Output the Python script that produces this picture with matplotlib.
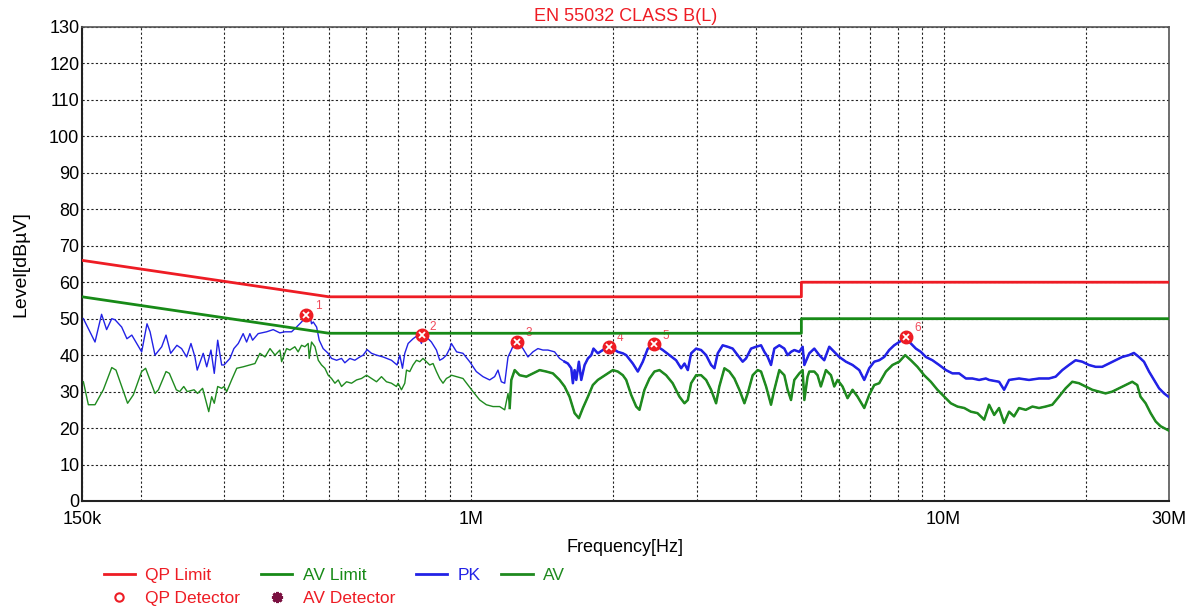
import matplotlib.pyplot as plt
from matplotlib.ticker import FixedLocator, NullFormatter
from matplotlib.lines import Line2D

plt.rcParams['font.family'] = ['Liberation Sans', 'DejaVu Sans']

# Limites EN 55032 clase B (MHz, dBuV)
qp_lim_freq = [0.15, 0.5, 0.5, 5.0, 5.0, 30.0]
qp_lim_level = [66, 56, 56, 56, 60, 60]
av_lim_freq = [0.15, 0.5, 0.5, 5.0, 5.0, 30.0]
av_lim_level = [56, 46, 46, 46, 50, 50]

# Traza PK
pk_freq = [
    0.151, 0.1598, 0.165, 0.1691, 0.1734, 0.1762, 0.182, 0.1867, 0.1912, 0.2006,
    0.2059, 0.209, 0.2141, 0.2212, 0.2259, 0.2311, 0.2382, 0.2437, 0.2498, 0.2551,
    0.2601, 0.263, 0.2708, 0.2755, 0.2812, 0.2858, 0.2906, 0.2963, 0.2997, 0.3085,
    0.3145, 0.3213, 0.329, 0.3346, 0.34, 0.3445, 0.354, 0.3688, 0.3809, 0.3935,
    0.4032, 0.4166, 0.4267, 0.4374, 0.4445, 0.4555, 0.4592, 0.463, 0.4707, 0.4767,
    0.4859, 0.498, 0.5062, 0.5188, 0.5315, 0.5401, 0.5534, 0.567, 0.581, 0.5905,
    0.6021, 0.615, 0.6303, 0.6508, 0.6779, 0.6967, 0.706, 0.7153, 0.7234, 0.7353,
    0.7532, 0.7718, 0.7846, 0.7907, 0.8039, 0.8237, 0.8441, 0.8577, 0.8716, 0.8861,
    0.9005, 0.908, 0.9313, 0.9607, 0.9927, 1.0251, 1.059, 1.0941, 1.1211, 1.1395,
    1.1582, 1.1774, 1.1965, 1.216, 1.236, 1.2563, 1.287, 1.3187, 1.351, 1.3843,
    1.4184, 1.4534, 1.5015, 1.5385, 1.5764, 1.602, 1.6287, 1.6415, 1.6552, 1.6689,
    1.6903, 1.71, 1.7382, 1.7665, 1.7953, 1.8151, 1.8538, 1.8996, 1.9463, 1.9945,
    2.0437, 2.0942, 2.1289, 2.1984, 2.2529, 2.3081, 2.3651, 2.4233, 2.483, 2.5443,
    2.6283, 2.7148, 2.7826, 2.828, 2.8746, 2.9215, 2.9938, 3.0672, 3.1426, 3.2203,
    3.2727, 3.326, 3.4072, 3.4913, 3.5773, 3.6654, 3.7559, 3.8185, 3.9126, 4.0093,
    4.1079, 4.175, 4.2432, 4.3121, 4.3825, 4.4907, 4.6014, 4.6764, 4.7536, 4.831,
    4.95, 5.031, 5.073, 5.197, 5.325, 5.456, 5.59, 5.728, 5.869, 6.014,
    6.214, 6.417, 6.63, 6.794, 6.96, 7.132, 7.307, 7.488, 7.672, 7.861,
    8.055, 8.294, 8.527, 8.737, 8.952, 9.173, 9.473, 9.787, 10.117, 10.442,
    10.788, 11.152, 11.51, 11.895, 12.29, 12.486, 13.108, 13.434, 13.763, 14.449,
    15.168, 15.925, 16.72, 17.273, 17.84, 18.43, 19.037, 19.664, 20.313, 20.982,
    21.674, 22.391, 23.128, 23.892, 24.68, 25.293, 25.921, 26.565, 27.225, 27.901,
    28.594, 29.305, 30.0,
]
pk_level = [
    50.0, 43.6, 51.2, 47.0, 50.0, 49.7, 47.7, 44.5, 45.5, 40.9,
    48.6, 46.4, 40.0, 42.3, 45.5, 40.5, 42.7, 41.8, 39.5, 43.2,
    39.5, 35.9, 40.5, 36.8, 41.4, 35.0, 44.1, 37.3, 37.3, 39.1,
    41.8, 43.2, 45.9, 43.6, 45.9, 44.1, 45.9, 46.4, 47.0, 46.1,
    46.4, 46.4, 47.7, 49.1, 50.3, 50.9, 48.6, 49.1, 47.7, 44.1,
    41.8, 40.5, 39.1, 38.6, 39.1, 37.9, 39.1, 38.6, 39.5, 40.0,
    41.5, 40.5, 40.0, 39.5, 38.6, 37.3, 40.0, 36.4, 40.5, 43.2,
    44.5, 45.5, 43.2, 45.5, 45.0, 43.6, 41.4, 38.6, 39.1, 40.0,
    41.8, 43.2, 40.9, 40.5, 38.2, 35.5, 34.1, 33.2, 34.1, 35.9,
    32.7, 32.3, 39.5, 41.4, 43.6, 43.6, 41.8, 39.5, 40.9, 41.8,
    41.4, 41.4, 40.9, 39.1, 38.2, 37.7, 36.4, 32.3, 35.9, 33.2,
    38.2, 33.2, 37.3, 39.1, 40.0, 41.8, 40.5, 41.4, 42.3, 41.8,
    40.9, 40.5, 40.0, 37.7, 35.5, 38.2, 41.8, 42.3, 42.3, 41.4,
    40.0, 38.6, 36.4, 37.7, 35.9, 40.5, 41.8, 41.4, 40.0, 37.3,
    36.4, 40.5, 42.7, 42.3, 41.8, 40.0, 38.2, 39.1, 41.8, 42.3,
    42.7, 40.9, 39.5, 37.3, 41.8, 42.7, 41.8, 40.0, 40.9, 41.4,
    40.9, 42.3, 37.3, 40.5, 41.8, 40.0, 38.6, 42.3, 40.9, 39.5,
    38.2, 37.3, 35.9, 33.2, 36.4, 38.2, 38.6, 39.5, 41.4, 42.7,
    43.6, 44.8, 43.2, 41.8, 40.9, 39.5, 38.6, 37.3, 35.9, 35.0,
    35.0, 33.6, 33.6, 33.2, 33.6, 33.2, 32.7, 30.5, 33.2, 33.6,
    33.2, 33.6, 33.6, 34.1, 35.9, 37.3, 38.6, 38.2, 37.3, 36.8,
    36.8, 37.7, 38.6, 39.5, 40.0, 40.6, 39.5, 38.2, 35.5, 33.2,
    30.9, 29.5, 28.5,
]

# Traza AV
av_freq = [
    0.151, 0.1547, 0.1598, 0.1664, 0.1734, 0.177, 0.182, 0.1873, 0.1926, 0.2006,
    0.2045, 0.2141, 0.2177, 0.2259, 0.2296, 0.2375, 0.2414, 0.2463, 0.2505, 0.259,
    0.2634, 0.27, 0.2782, 0.2822, 0.2858, 0.2906, 0.2963, 0.2997, 0.3037, 0.311,
    0.3189, 0.329, 0.34, 0.3485, 0.357, 0.366, 0.375, 0.3843, 0.3935, 0.3969,
    0.4066, 0.4132, 0.4233, 0.4301, 0.4374, 0.4445, 0.4517, 0.454, 0.4592, 0.4669,
    0.4745, 0.4821, 0.4901, 0.498, 0.5062, 0.5146, 0.523, 0.5315, 0.5446, 0.558,
    0.5718, 0.5858, 0.6004, 0.615, 0.6303, 0.6457, 0.6616, 0.6779, 0.6946, 0.7002,
    0.7118, 0.7234, 0.7295, 0.7412, 0.7532, 0.7657, 0.7783, 0.7907, 0.8039, 0.817,
    0.8303, 0.8441, 0.8577, 0.8716, 0.8861, 0.9005, 0.908, 0.9313, 0.9607, 0.9847,
    1.0088, 1.0424, 1.0766, 1.1122, 1.1487, 1.1774, 1.1965, 1.2064, 1.216, 1.236,
    1.266, 1.3085, 1.351, 1.396, 1.442, 1.4893, 1.5385, 1.5764, 1.615, 1.6552,
    1.6903, 1.7238, 1.7665, 1.8092, 1.8538, 1.8996, 1.9463, 1.9945, 2.0437, 2.0942,
    2.1289, 2.181, 2.235, 2.271, 2.327, 2.385, 2.443, 2.504, 2.586, 2.67,
    2.76, 2.828, 2.8746, 2.9215, 2.9938, 3.0672, 3.1426, 3.2203, 3.2994, 3.352,
    3.436, 3.52, 3.607, 3.696, 3.788, 3.849, 3.944, 4.041, 4.1079, 4.21,
    4.3121, 4.3825, 4.4907, 4.6014, 4.6764, 4.7536, 4.831, 4.95, 5.031, 5.073,
    5.154, 5.197, 5.325, 5.41, 5.498, 5.636, 5.776, 5.869, 5.965, 6.111,
    6.262, 6.417, 6.576, 6.794, 6.96, 7.132, 7.307, 7.55, 7.796, 8.055,
    8.294, 8.527, 8.804, 9.098, 9.399, 9.706, 10.033, 10.36, 10.7, 11.062,
    11.42, 11.797, 12.19, 12.486, 12.8, 13.108, 13.434, 13.763, 14.1, 14.449,
    14.93, 15.42, 15.925, 16.45, 16.99, 17.55, 18.13, 18.73, 19.35, 19.99,
    20.65, 21.33, 22.03, 22.76, 23.51, 24.29, 25.09, 25.71, 26.12, 26.78,
    27.44, 28.13, 28.81, 29.78, 30.0,
]
av_level = [
    32.7, 26.4, 26.4, 30.5, 36.6, 35.9, 31.4, 26.8, 29.1, 35.5,
    36.4, 29.5, 30.5, 35.5, 35.0, 30.5, 30.0, 31.4, 30.0, 30.5,
    29.5, 30.9, 24.5, 28.6, 26.8, 31.4, 30.9, 31.4, 30.0, 33.2,
    36.4, 36.8, 37.3, 37.7, 40.5, 39.5, 41.8, 40.0, 41.4, 38.2,
    41.8, 41.4, 42.3, 40.9, 42.7, 42.3, 43.2, 39.1, 43.6, 42.3,
    38.6, 37.3, 36.4, 34.5, 33.6, 32.3, 33.2, 31.4, 32.7, 32.3,
    33.2, 33.6, 34.5, 33.6, 32.7, 34.1, 32.7, 32.3, 31.4, 32.3,
    30.5, 32.3, 35.9, 35.5, 37.3, 38.6, 38.2, 39.1, 38.2, 37.3,
    37.7, 35.5, 33.6, 32.3, 33.6, 34.1, 34.5, 34.1, 33.6, 31.8,
    30.0, 27.7, 26.4, 25.9, 25.9, 25.0, 29.5, 25.5, 33.2, 35.9,
    34.5, 34.1, 35.0, 35.9, 35.5, 35.0, 33.2, 31.4, 28.6, 24.1,
    22.7, 25.5, 28.6, 31.8, 33.2, 34.1, 35.0, 35.9, 35.5, 34.5,
    33.2, 29.1, 25.9, 25.0, 30.5, 33.6, 35.5, 35.9, 34.5, 32.3,
    28.6, 26.8, 27.7, 32.3, 34.5, 34.5, 33.2, 30.5, 26.8, 31.4,
    36.4, 35.5, 33.6, 30.5, 26.8, 29.5, 34.5, 35.9, 35.5, 31.4,
    26.4, 30.5, 35.9, 34.5, 30.5, 27.7, 33.2, 35.0, 35.9, 27.7,
    34.1, 35.5, 35.5, 34.5, 31.4, 35.9, 34.5, 31.4, 33.2, 31.4,
    28.2, 30.5, 28.6, 25.5, 29.1, 31.8, 32.3, 35.5, 37.3, 38.2,
    40.0, 38.6, 36.8, 34.5, 32.7, 30.5, 28.6, 26.8, 25.9, 25.5,
    24.5, 24.1, 22.3, 26.4, 23.6, 25.5, 21.4, 24.5, 23.2, 25.5,
    25.0, 25.9, 25.5, 25.9, 26.4, 28.6, 30.9, 32.7, 32.3, 31.4,
    30.5, 30.0, 29.5, 30.0, 30.9, 31.8, 32.7, 31.8, 28.6, 26.8,
    24.1, 21.8, 20.5, 19.5, 19.3,
]

# Picos marcados
peak_freq = [0.448, 0.785, 1.25, 1.956, 2.443, 8.323]
peak_level = [51.0, 45.5, 43.7, 42.3, 43.0, 45.1]
peak_label = ['1', '2', '3', '4', '5', '6']

# Ejes
x_major = [0.15, 1.0, 10.0, 30.0]
x_major_labels = ['150k', '1M', '10M', '30M']
x_minor = [0.2, 0.3, 0.4, 0.5, 0.6, 0.7, 0.8, 0.9,
           2, 3, 4, 5, 6, 7, 8, 9, 20]
y_ticks = list(range(0, 131, 10))

RED = '#ee1c24'
GREEN = '#178a17'
BLUE = '#2222e6'
TRACE_GREEN = '#1f8a1f'

fig = plt.figure(figsize=(11.94, 6.16), dpi=100)
ax = fig.add_axes([0.0687, 0.1867, 0.9103, 0.7695])

# trazas: parte baja fina, parte alta (barrido ruidoso) algo mas gruesa
pk_cut = next(i for i, f in enumerate(pk_freq) if f >= 1.55)
av_cut = next(i for i, f in enumerate(av_freq) if f >= 1.2)
ax.plot(pk_freq, pk_level, color=BLUE, lw=1.0, zorder=3)
ax.plot(pk_freq[pk_cut:], pk_level[pk_cut:], color=BLUE, lw=1.8, zorder=3)
ax.plot(av_freq, av_level, color=TRACE_GREEN, lw=1.0, zorder=3)
ax.plot(av_freq[av_cut:], av_level[av_cut:], color=TRACE_GREEN, lw=1.8, zorder=3)
ax.plot(qp_lim_freq, qp_lim_level, color=RED, lw=2.0, zorder=4)
ax.plot(av_lim_freq, av_lim_level, color=GREEN, lw=2.0, zorder=4)

ax.plot(peak_freq, peak_level, ls='none', marker='o', ms=9,
        mfc=RED, mec=RED, zorder=5)
ax.plot(peak_freq, peak_level, ls='none', marker='x', ms=5,
        mec='white', mew=1.3, zorder=6)
for f, l, t in zip(peak_freq, peak_level, peak_label):
    ax.annotate(t, (f, l), xytext=(6, 4), textcoords='offset points',
                color='#f04a5a', fontsize=8.5)

ax.set_xscale('log')
ax.set_xlim(0.15, 30)
ax.set_ylim(0, 130)
ax.xaxis.set_major_locator(FixedLocator(x_major))
ax.set_xticklabels(x_major_labels)
ax.xaxis.set_minor_locator(FixedLocator(x_minor))
ax.xaxis.set_minor_formatter(NullFormatter())
ax.set_yticks(y_ticks)
ax.tick_params(which='both', length=0, labelsize=13, pad=2)
ax.tick_params(axis='x', pad=7)

ax.grid(True, which='both', color='#222222', lw=0.8, ls=(0, (2, 2)))

for s in ['left', 'bottom']:
    ax.spines[s].set_linewidth(1.5)
    ax.spines[s].set_color('#222222')
for s in ['top', 'right']:
    ax.spines[s].set_linewidth(1.2)
    ax.spines[s].set_color('#555555')

ax.set_title('EN 55032 CLASS B(L)', color=RED, fontsize=13, pad=4)
ax.set_ylabel('Level[dBµV]', fontsize=14, labelpad=14)
ax.set_xlabel('Frequency[Hz]', fontsize=13, labelpad=8)

handles = [
    Line2D([], [], color=RED, lw=2),
    Line2D([], [], color=RED, ls='none', marker='o', mfc='none', mew=1.5, ms=6),
    Line2D([], [], color=GREEN, lw=2),
    Line2D([], [], color='#7a1040', ls='none', marker=(8, 2, 0), mew=2, ms=8),
    Line2D([], [], color=BLUE, lw=2),
    Line2D([], [], color=TRACE_GREEN, lw=2),
]
labels = ['QP Limit', 'QP Detector', 'AV Limit', 'AV Detector', 'PK', 'AV']
text_colors = [RED, RED, GREEN, RED, BLUE, TRACE_GREEN]
leg = fig.legend(handles, labels, ncol=4, loc='lower left',
                 bbox_to_anchor=(0.078, 0.0), frameon=False, fontsize=12.5,
                 handlelength=1.8, columnspacing=1.2, labelspacing=0.45,
                 handletextpad=0.6, borderpad=0.1)
for txt, c in zip(leg.get_texts(), text_colors):
    txt.set_color(c)

fig.savefig('out.png', dpi=100)
